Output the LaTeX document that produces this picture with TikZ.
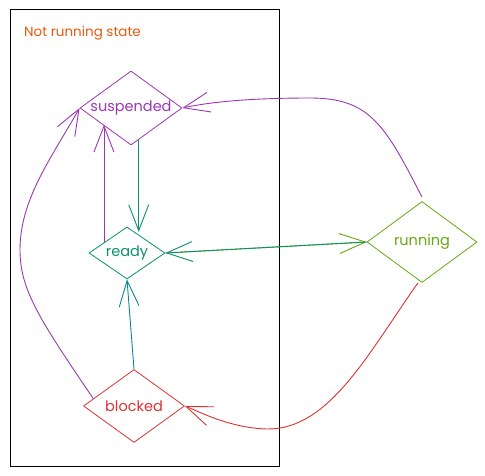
\documentclass[tikz,border=0pt]{standalone}
\usepackage{fontspec}
\setmainfont{Poppins}
\usetikzlibrary{shapes.geometric,arrows.meta,calc}
\definecolor{cGrape}{HTML}{9C36B5}
\definecolor{cTeal}{HTML}{099268}
\definecolor{cCyan}{HTML}{0C8599}
\definecolor{cLime}{HTML}{66A80F}
\definecolor{cRed}{HTML}{E03131}
\definecolor{cOrange}{HTML}{E8590C}
\newcommand{\zw}[1]{\makebox[0pt][c]{#1}}
\begin{document}
\begin{tikzpicture}[x=1pt,y=-1pt,
  state/.style={diamond, draw, line width=0.8pt, inner sep=0pt, font=\fontsize{14.5}{16}\selectfont},
  arr/.style={line width=0.9pt, -{Straight Barb[length=26pt,width=20pt]}},
]
\useasboundingbox (0,0) rectangle (485,476);
% area
\node[draw=black, line width=1pt, minimum width=269pt, minimum height=456pt, inner sep=0pt] (area) at (144.5,238) {};
\node[anchor=west, text=cOrange, font=\fontsize{13.5}{15}\selectfont, inner sep=0pt] (title) at (24,33) {Not running state};
% states
\node[state, draw=cGrape, text=cGrape, minimum width=102pt, minimum height=74pt] (susp) at (131,108) {\zw{suspended}};
\node[state, draw=cTeal, text=cTeal, minimum width=76pt, minimum height=52pt] (ready) at (127,253) {\zw{ready}};
\node[state, draw=cLime, text=cLime, minimum width=110pt, minimum height=81pt] (run) at (422,242) {\zw{running}};
\node[state, draw=cRed, text=cRed, minimum width=101pt, minimum height=73pt] (blk) at (134,406) {\zw{blocked}};
% helper coordinates
\coordinate (s1) at ($(susp.south)!0.15!(susp.east)$);
\coordinate (r1) at ($(ready.north)!0.2!(ready.east)$);
\coordinate (r2) at ($(ready.north)!0.6!(ready.west)$);
\coordinate (s2) at ($(susp.south)!0.55!(susp.west)$);
\coordinate (b1) at ($(blk.west)!0.2!(blk.north)$);
% connectors
\draw[arr, draw=cGrape] ([yshift=4pt]run.north) .. controls (385,125) and (370,98) .. (310,98)
   .. controls (250,98) and (210,102) .. (susp.east);
\draw[arr, draw=cTeal] (s1) -- (s1 |- r1);
\draw[arr, draw=cGrape] (r2) -- (r2 |- s2);
\draw[arr, draw=cGrape] (b1) .. controls (40,320) and (20,290) .. (20,250)
   .. controls (20,200) and (50,160) .. (susp.west);
\draw[arr, draw=cCyan] (blk.north) -- (ready.south);
\draw[arr, draw=cLime] (ready.east) -- (run.west);
\draw[arr, draw=cTeal] (run.west) -- (ready.east);
\draw[arr, draw=cRed] ([xshift=-4pt]run.south) .. controls (370,350) and (330,430) .. (267,429)
   .. controls (230,428) and (200,412) .. (blk.east);
\end{tikzpicture}
\end{document}
